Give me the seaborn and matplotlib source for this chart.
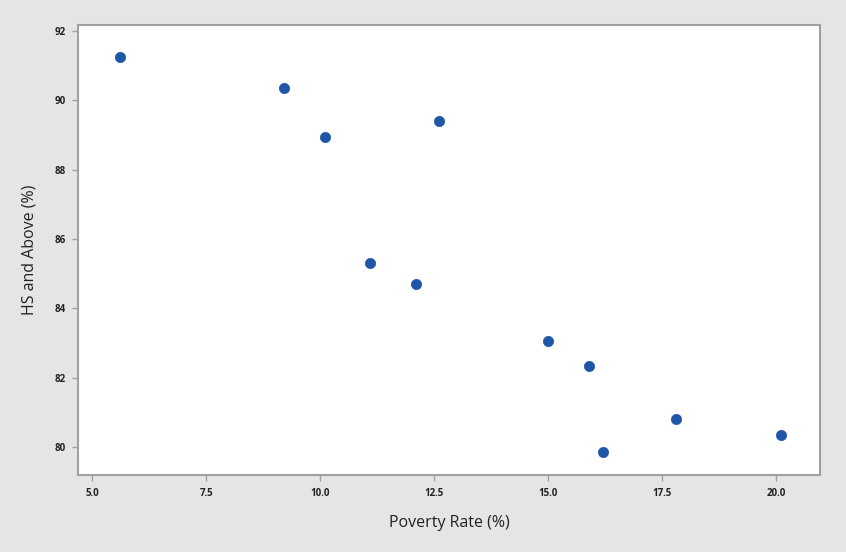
import matplotlib
matplotlib.use("Agg")
import matplotlib.pyplot as plt
import seaborn as sns
import pandas as pd

poverty_rate = [5.6, 9.2, 10.1, 12.6, 11.1, 12.1, 15.0, 15.9, 16.2, 17.8, 20.1]
hs_and_above = [91.25, 90.35, 88.95, 89.4, 85.3, 84.7, 83.05, 82.35, 79.85, 80.8, 80.35]
x_ticks = [5.0, 7.5, 10.0, 12.5, 15.0, 17.5, 20.0]
y_ticks = [80, 82, 84, 86, 88, 90, 92]

df = pd.DataFrame({"Poverty Rate (%)": poverty_rate, "HS and Above (%)": hs_and_above})

sns.set_style("ticks")
plt.rcParams['font.family'] = ['Open Sans', 'DejaVu Sans']

fig = plt.figure(figsize=(8.46, 5.52), dpi=100, facecolor="#e5e5e5")
ax = fig.add_axes([78/846, 1 - 475/552, (820-78)/846, (475-25)/552])
ax.set_facecolor("white")

sns.scatterplot(data=df, x="Poverty Rate (%)", y="HS and Above (%)", ax=ax,
                color="#1f56a8", s=55, marker="o", edgecolor="#1f56a8", linewidth=0.5)

ax.set_xlim(4.69, 20.96)
ax.set_ylim(79.2, 92.17)
ax.set_xticks(x_ticks)
ax.set_xticklabels([f"{t:.1f}" for t in x_ticks])
ax.set_yticks(y_ticks)
ax.set_yticklabels([str(t) for t in y_ticks])

for sp in ax.spines.values():
    sp.set_visible(True)
    sp.set_color("#a0a0a0")
    sp.set_linewidth(1.5)

ax.tick_params(axis="both", which="both", length=4, width=1, color="#a0a0a0",
               labelsize=7, labelcolor="#222222", direction="out", bottom=True, left=True,
               top=False, right=False, pad=5)
for lab in ax.get_xticklabels() + ax.get_yticklabels():
    lab.set_fontweight("bold")

ax.set_xlabel("Poverty Rate (%)", fontsize=11.5, color="#222222", labelpad=12)
ax.set_ylabel("HS and Above (%)", fontsize=11.5, color="#222222", labelpad=12)

fig.savefig("out.png", dpi=100, facecolor=fig.get_facecolor())
